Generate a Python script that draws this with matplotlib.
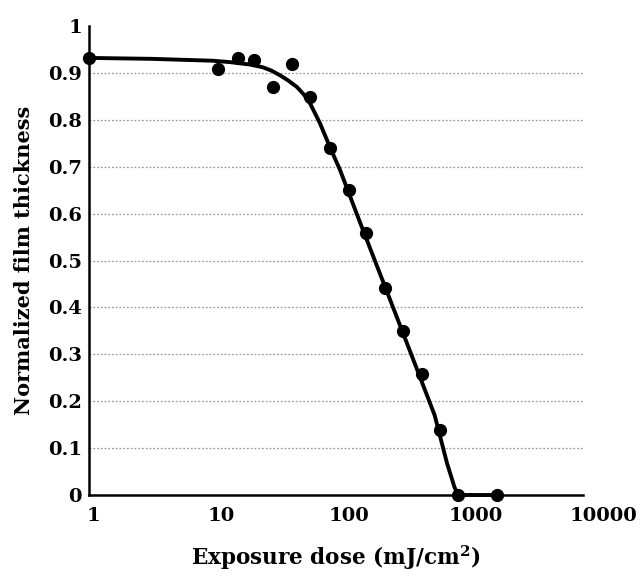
import matplotlib.pyplot as plt
import matplotlib.transforms as mtransforms
import numpy as np

# measured points (exposure dose, normalized thickness)
dose = [1, 11, 16, 21.7, 31, 44, 62, 90, 127, 175, 250, 347, 497, 694, 975, 2000]
thickness = [0.932, 0.908, 0.932, 0.928, 0.87, 0.919, 0.849, 0.74, 0.65, 0.559,
             0.441, 0.35, 0.258, 0.139, 0.0, 0.0]

# fitted curve
fit_dose = [1, 3.2, 10, 13.9, 20, 25.6, 30, 35.2, 41, 48.3, 55, 61.5, 74.2, 89.4, 108,
            158, 251, 398, 631, 794, 912, 977, 2000]
fit_thickness = [0.932, 0.93, 0.926, 0.923, 0.918, 0.912, 0.905, 0.895, 0.884, 0.87,
                 0.854, 0.836, 0.793, 0.742, 0.693, 0.579, 0.443, 0.307, 0.17, 0.068,
                 0.017, 0.0, 0.0]

xticks = [1, 10, 100, 1000, 10000]
yticks = [0, 0.1, 0.2, 0.3, 0.4, 0.5, 0.6, 0.7, 0.8, 0.9, 1]
ytick_labels = ['0', '0.1', '0.2', '0.3', '0.4', '0.5', '0.6', '0.7', '0.8', '0.9', '1']

plt.rcParams['font.family'] = 'DejaVu Serif'
plt.rcParams['font.weight'] = 'bold'
plt.rcParams['mathtext.fontset'] = 'dejavuserif'

fig = plt.figure(figsize=(6.43, 5.78), dpi=100)
ax = fig.add_axes([0.1384, 0.1436, 0.768, 0.8114])

# dotted grid lines
for y in yticks[1:-1]:
    ax.axhline(y, color='#9a9a9a', linestyle=(0, (1.5, 1.5)), linewidth=0.9, zorder=1)

ax.plot(fit_dose, fit_thickness, color='black', linewidth=2.8, zorder=3, clip_on=False,
        solid_joinstyle='round')
ax.plot(dose, thickness, 'o', color='black', markersize=8.5, zorder=4, clip_on=False)

ax.set_xscale('log')
ax.set_xlim(1, 10000)
ax.set_ylim(0, 1)
ax.set_xticks(xticks)
ax.set_xticklabels([str(t) for t in xticks])
ax.set_yticks(yticks)
ax.set_yticklabels(ytick_labels)
ax.xaxis.set_minor_locator(plt.NullLocator())
ax.tick_params(axis='both', length=0, labelsize=14)
ax.tick_params(axis='x', pad=9)
ax.tick_params(axis='y', pad=5)

for side in ['top', 'right']:
    ax.spines[side].set_visible(False)
for side in ['left', 'bottom']:
    ax.spines[side].set_linewidth(1.8)

ax.set_xlabel('Exposure dose (mJ/cm$^{\\mathbf{2}}$)', fontsize=15.5, fontweight='bold', labelpad=13)
ax.set_ylabel('Normalized film thickness', fontsize=15, fontweight='bold', labelpad=10)

# x tick labels sit a bit right of their ticks, as in the original
fig.canvas.draw()
renderer = fig.canvas.get_renderer()
for lab in ax.get_xticklabels():
    w = lab.get_window_extent(renderer).width
    lab.set_horizontalalignment('left')
    off = mtransforms.ScaledTranslation(-0.19 * w / 100, 0, fig.dpi_scale_trans)
    lab.set_transform(lab.get_transform() + off)

fig.savefig('out.png', dpi=100)
